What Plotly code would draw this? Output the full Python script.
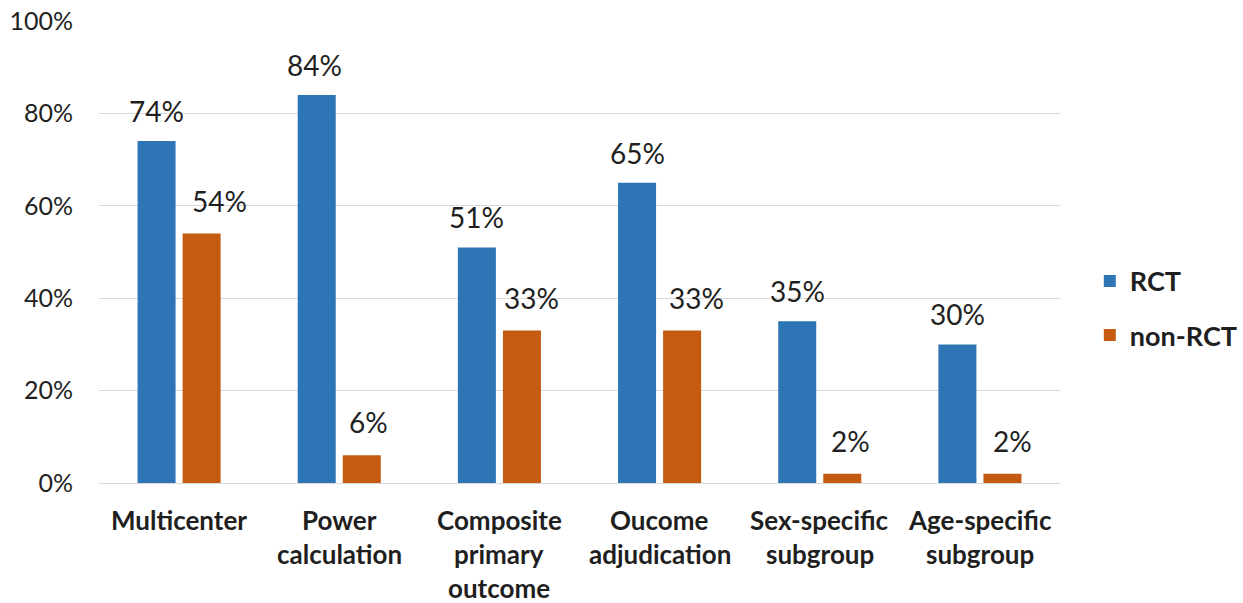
import plotly.graph_objects as go

categories = ["Multicenter", "Power<br>calculation", "Composite<br>primary<br>outcome",
              "Oucome<br>adjudication", "Sex-specific<br>subgroup", "Age-specific<br>subgroup"]
rct = [74, 84, 51, 65, 35, 30]
non_rct = [54, 6, 33, 33, 2, 2]
y_ticks = [0, 20, 40, 60, 80, 100]
y_tick_labels = ["0%", "20%", "40%", "60%", "80%", "100%"]

# horizontal nudges (px) applied to the value labels of each series
rct_label_nudge = [0, -2, 0, 0, 0, 0]
non_rct_label_nudge = [18, 7, 10, 14, 8, 10]

BLUE = "#2E75B6"
ORANGE = "#C55A11"
FONT = "Lato"
TEXT = "#1F1F1F"

fig = go.Figure()
fig.add_trace(go.Bar(name="RCT", x=categories, y=rct, marker_color=BLUE,
                     marker_line_width=0, legendgroup="a"))
fig.add_trace(go.Bar(name="non-RCT", x=categories, y=non_rct, marker_color=ORANGE,
                     marker_line_width=0, legendgroup="b"))

annotations = []
# value labels above each bar
for series, shift, nudges, lift in ((rct, -22.5, rct_label_nudge, 11),
                                    (non_rct, 22.5, non_rct_label_nudge, 14)):
    for cat, v, n in zip(categories, series, nudges):
        annotations.append(dict(x=cat, y=v, xref="x", yref="y", text=f"{v}%",
                                showarrow=False, xshift=shift + n, yanchor="bottom", yshift=lift,
                                font=dict(family=FONT, size=28, color=TEXT)))
# category labels, one line per annotation for wider line spacing
for cat in categories:
    for i, line in enumerate(cat.split("<br>")):
        annotations.append(dict(x=cat, y=0, xref="x", yref="paper", text=f"<b>{line}</b>",
                                showarrow=False, yanchor="middle", yshift=-37 - 34 * i,
                                font=dict(family=FONT, size=26, color=TEXT)))

fig.update_layout(
    width=1243, height=603,
    margin=dict(l=99, r=183, t=21, b=120, autoexpand=False),
    paper_bgcolor="white", plot_bgcolor="white",
    barmode="group", bargap=0.4375, bargroupgap=0.156,
    font=dict(family=FONT, color=TEXT),
    showlegend=True,
    legend=dict(x=1.031, y=0.378, xanchor="left", yanchor="middle",
                font=dict(family=FONT, size=27, color=TEXT, weight="bold"),
                tracegroupgap=16, itemsizing="constant"),
    annotations=annotations,
)
fig.update_xaxes(showticklabels=False, showline=False, showgrid=False, ticks="")
fig.update_yaxes(range=[0, 100], tickvals=y_ticks, ticktext=y_tick_labels,
                 showgrid=True, gridcolor="#D9D9D9", gridwidth=1,
                 zeroline=True, zerolinecolor="#D9D9D9", zerolinewidth=1,
                 showline=False, ticks="", ticklabelstandoff=25,
                 tickfont=dict(family=FONT, size=25, color=TEXT))

fig.write_html("out.html")
